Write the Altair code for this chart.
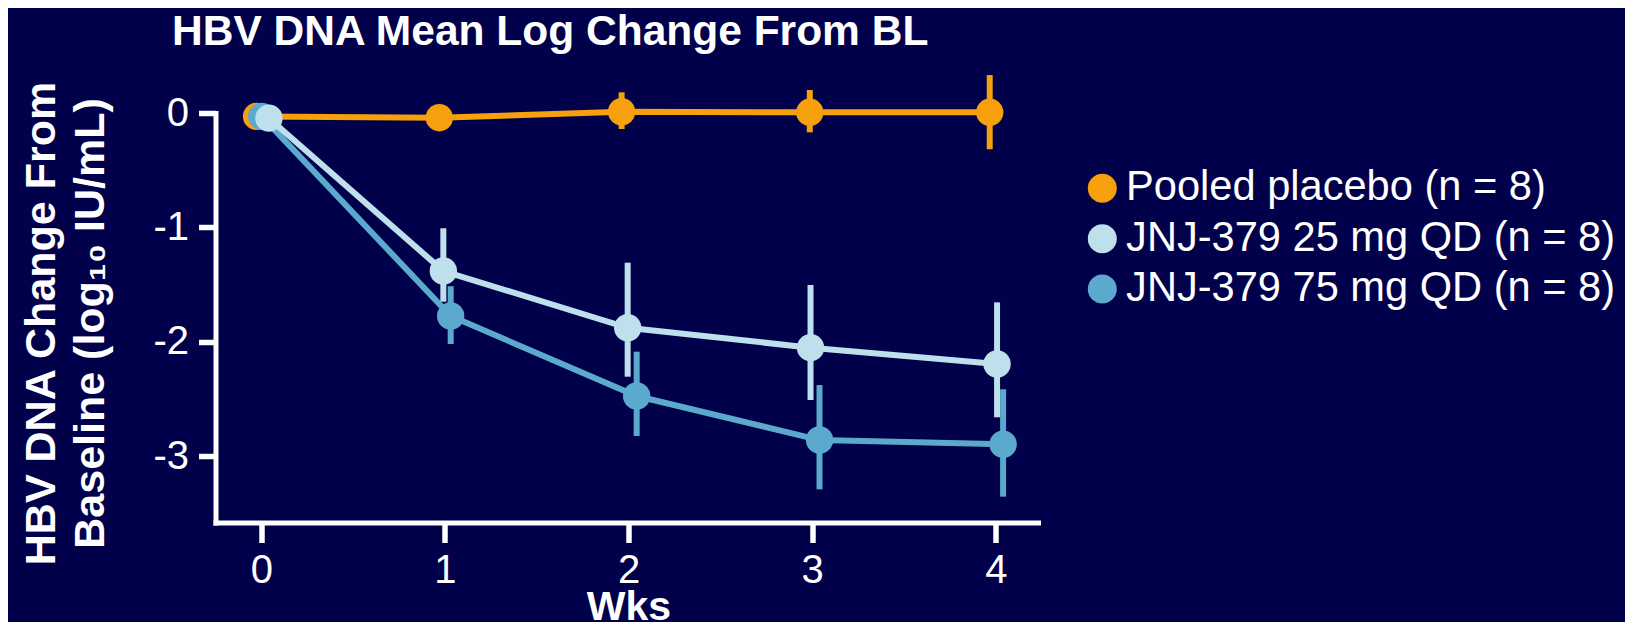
import altair as alt
import pandas as pd

# ---- data ----
weeks = [0, 1, 2, 3, 4]
series_names = ["Pooled placebo (n = 8)", "JNJ-379 25 mg QD (n = 8)", "JNJ-379 75 mg QD (n = 8)"]
series_colors = ["#F5A00C", "#BEE0EC", "#5BAACD"]

placebo_mean = [-0.03, -0.041, 0.011, 0.006, 0.006]
placebo_hi = [None, None, 0.181, 0.201, 0.332]
placebo_lo = [None, None, -0.140, -0.169, -0.317]
placebo_dx = [-0.026, -0.031, -0.038, -0.013, -0.033]

mg25_mean = [-0.045, -1.382, -1.878, -2.052, -2.195]
mg25_hi = [None, -1.008, -1.309, -1.504, -1.656]
mg25_lo = [None, -1.650, -2.306, -2.510, -2.661]
mg25_dx = [0.041, -0.009, -0.005, -0.009, 0.007]

mg75_mean = [-0.03, -1.775, -2.475, -2.860, -2.897]
mg75_hi = [None, -1.515, -2.087, -2.379, -2.416]
mg75_lo = [None, -2.020, -2.825, -3.291, -3.355]
mg75_dx = [0.002, 0.031, 0.044, 0.040, 0.040]

y_ticks = [0, -1, -2, -3]
x_ticks = [0, 1, 2, 3, 4]

# draw order: placebo, 75 mg, 25 mg (25 mg on top)
rows = []
for name, mean, hi, lo, dx in [
    (series_names[0], placebo_mean, placebo_hi, placebo_lo, placebo_dx),
    (series_names[2], mg75_mean, mg75_hi, mg75_lo, mg75_dx),
    (series_names[1], mg25_mean, mg25_hi, mg25_lo, mg25_dx),
]:
    for w, m, h, l, d in zip(weeks, mean, hi, lo, dx):
        rows.append({"series": name, "week": w, "x": w + d, "mean": m, "hi": h, "lo": l})
df = pd.DataFrame(rows)

FONT = "Liberation Sans"
BG = "#01004A"

color_scale = alt.Scale(domain=series_names, range=series_colors)
x_scale = alt.Scale(domain=[-0.25, 4.23], nice=False, zero=False)
y_scale = alt.Scale(domain=[-3.581, 0], nice=False, zero=False)

x_axis = alt.Axis(
    values=x_ticks, format="d", title="Wks", grid=False,
    domainColor="white", domainWidth=5, domainCap="square",
    tickColor="white", tickWidth=5.5, tickSize=20,
    labelColor="white", labelFontSize=40, labelFont=FONT, labelPadding=8,
    titleColor="white", titleFontSize=41, titleFont=FONT, titleFontWeight="bold",
    titleBaseline="alphabetic", titleX=413, titleY=96.5,
)
y_axis = alt.Axis(
    values=y_ticks, title=["HBV DNA Change From", "Baseline (log₁₀ IU/mL)"], grid=False,
    domainColor="white", domainWidth=5, domainCap="square",
    tickColor="white", tickWidth=5.5, tickSize=17,
    labelColor="white", labelFontSize=40, labelFont=FONT, labelPadding=10,
    labelExpr="datum.value < 0 ? '-' + abs(datum.value) : '' + datum.value",
    titleColor="white", titleFontSize=43, titleFont=FONT, titleFontWeight="bold",
    titleAngle=270, titleAlign="center", titleBaseline="alphabetic",
    titleLineHeight=49, titleX=-161.5, titleY=210,
)

base = alt.Chart(df)

lines = base.mark_line(strokeWidth=6).encode(
    x=alt.X("x:Q", scale=x_scale, axis=x_axis),
    y=alt.Y("mean:Q", scale=y_scale, axis=y_axis),
    color=alt.Color("series:N", scale=color_scale, legend=None),
    order=alt.Order("week:Q"),
)

bars = base.mark_rule(strokeWidth=6).encode(
    x=alt.X("x:Q", scale=x_scale),
    y=alt.Y("lo:Q", scale=y_scale),
    y2=alt.Y2("hi:Q"),
    color=alt.Color("series:N", scale=color_scale, legend=None),
).transform_filter("datum.hi != null")

points = base.mark_circle(size=750, opacity=1).encode(
    x=alt.X("x:Q", scale=x_scale),
    y=alt.Y("mean:Q", scale=y_scale),
    color=alt.Color(
        "series:N", scale=color_scale,
        legend=alt.Legend(
            title=None, orient="none", legendX=866, legendY=54.5,
            symbolType="circle", symbolSize=841, symbolStrokeWidth=0, symbolOpacity=1,
            labelFontSize=41.6, labelFont=FONT, labelColor="white", labelOffset=3,
            labelLimit=700, rowPadding=7.4, padding=0,
        ),
    ),
)

chart = alt.layer(lines, bars, points).resolve_legend(color="independent").properties(
    width=822.5, height=409.5,
    title=alt.TitleParams(
        "HBV DNA Mean Log Change From BL", anchor="start", frame="group",
        fontSize=42.5, font=FONT, fontWeight="bold", color="white",
        dx=-43.5, offset=-15, baseline="alphabetic",
    ),
    autosize=alt.AutoSizeParams(type="none"),
    padding={"left": 207.5, "top": 105, "right": 587, "bottom": 99.5},
    background=BG,
).configure_view(stroke=None)

chart.save("out.html", embed_options={"renderer": "svg", "actions": False})
